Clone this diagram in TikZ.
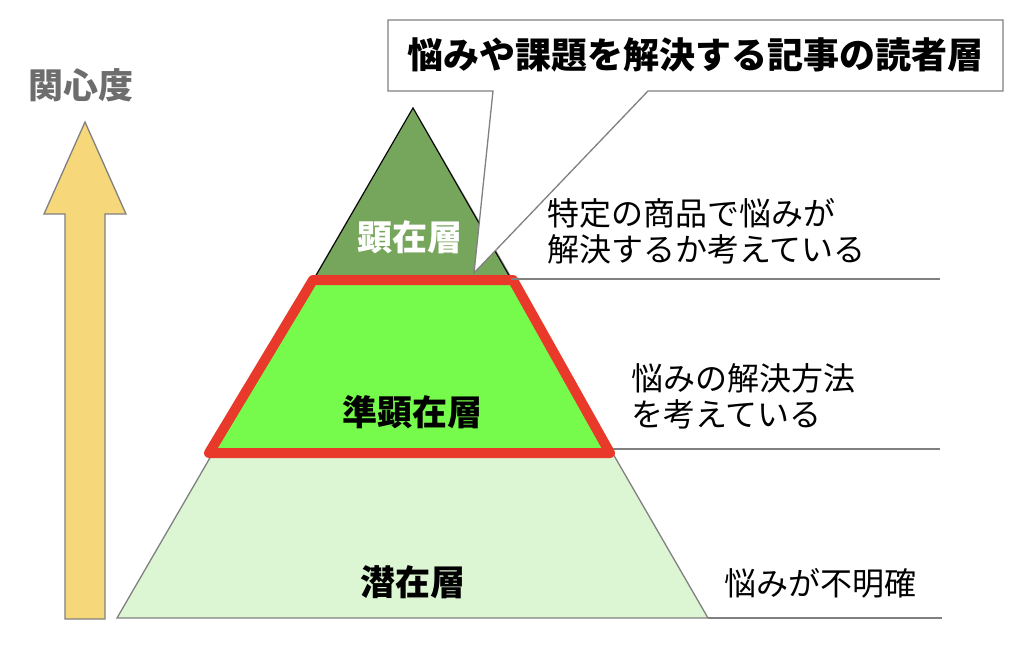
\documentclass[tikz,border=0pt]{standalone}
\usepackage{fontspec}
\setmainfont{Noto Sans CJK JP}
\definecolor{topgreen}{HTML}{76A55C}
\definecolor{midgreen}{HTML}{76FB4C}
\definecolor{lowgreen}{HTML}{DCF5D3}
\definecolor{hotred}{HTML}{E8392A}
\definecolor{arrowyellow}{HTML}{F6D77A}
\definecolor{linegray}{HTML}{808080}
\tikzset{
  layer/.style={font=\bfseries\fontsize{35}{40}\selectfont},
  note/.style={font=\fontsize{32}{36}\selectfont, align=left, anchor=west},
  guide/.style={draw=linegray, line width=1.3pt}
}

\begin{document}
\begin{tikzpicture}[x=1pt,y=-1pt]
      \useasboundingbox (0,0) rectangle (1024,645);
      %points
      \coordinate (A) at (413,108);
      \coordinate (B) at (117,618);
      \coordinate (C) at (708,618);
      \coordinate (P) at (313,280);
      \coordinate (Q) at (513,280);
      \coordinate (R) at (610,453);
      \coordinate (S) at (209,453);
      \coordinate (U) at (942,618);
      \coordinate (V) at (511,279);
      \coordinate (W) at (940,279);
      \coordinate (X) at (613,449);
      \coordinate (Y) at (940,449);
      %layers
      \draw[guide, fill=lowgreen] (B)--(C)--(A)--cycle;
      \draw[black, line width=1pt, fill=topgreen] (A)--(V)--(314,279)--cycle;
      \draw[hotred, line width=10pt, line join=round, fill=midgreen] (P)--(Q)--(R)--(S)--cycle;
      \draw[guide] (C)--(U); \draw[guide] (V)--(W); \draw[guide] (X)--(Y);
      %arrow
      \draw[linegray, line width=1.3pt, fill=arrowyellow]
        (65,619)--(65,214)--(44,214)--(85,122)--(126,214)--(105,214)--(105,619)--cycle;
      \node[font=\bfseries\fontsize{35}{40}\selectfont, text=linegray!85!black] (kanshin) at (81,85) {関心度};
      %callout
      \coordinate (T) at (474,273);
      \draw[guide, fill=white] (388,20)--(1003,20)--(1003,91)--(648,91)--(T)--(493,91)--(388,91)--cycle;
      \node[font=\bfseries\fontsize{36}{40}\selectfont] (callout) at (695,55) {悩みや課題を解決する記事の読者層};
      %labels
      \node[layer, text=white] (kenzai) at (410,237) {顕在層};
      \node[layer] (junkenzai) at (412,412) {準顕在層};
      \node[layer] (senzai) at (413,582) {潜在層};
      \node[note] (n1) at (544,231) {特定の商品で悩みが\\解決するか考えている};
      \node[note] (n2) at (628,396) {悩みの解決方法\\を考えている};
      \node[note] (n3) at (721,583) {悩みが不明確};
\end{tikzpicture}
\end{document}
